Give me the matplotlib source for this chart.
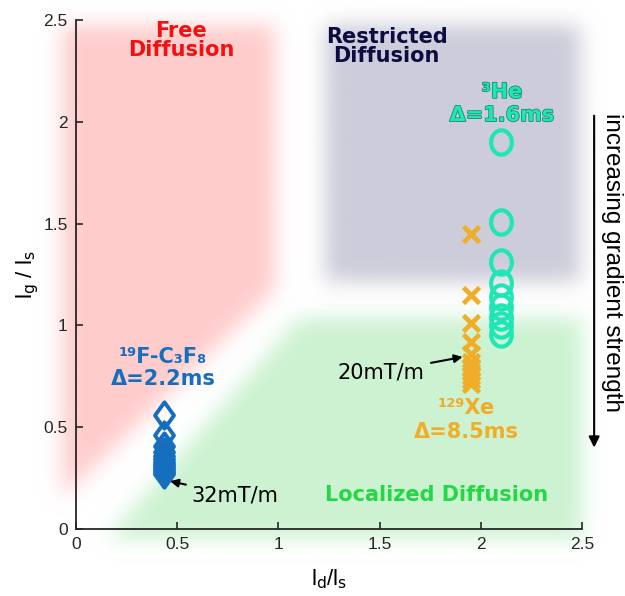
import numpy as np
import matplotlib
matplotlib.use("Agg")
import matplotlib.pyplot as plt
from matplotlib.path import Path
import matplotlib.patheffects as pe

# ---------------- data ----------------
he_x = 2.10
he_y = [1.90, 1.51, 1.31, 1.21, 1.14, 1.09, 1.04, 1.00, 0.96]

xe_x = 1.95
xe_y = [1.45, 1.15, 1.01, 0.92, 0.86, 0.82, 0.79, 0.77, 0.75, 0.73, 0.71]

f_x = 0.435
f_y = [0.56, 0.46, 0.41, 0.38, 0.36, 0.345, 0.33, 0.32, 0.31, 0.30, 0.29, 0.28, 0.27]

xticks = [0, 0.5, 1, 1.5, 2, 2.5]
yticks = [0, 0.5, 1, 1.5, 2, 2.5]
xtick_labels = ["0", "0.5", "1", "1.5", "2", "2.5"]
ytick_labels = ["0", "0.5", "1", "1.5", "2", "2.5"]

free_region = [(-0.07, 2.47), (0.98, 2.47), (0.98, 1.17), (-0.07, 0.15)]
restricted_region = [(1.23, 2.47), (2.49, 2.47), (2.49, 1.21), (1.23, 1.21)]
localized_region = [(0.15, -0.05), (2.50, -0.05), (2.50, 1.03), (1.10, 1.03)]

c_free = (1.0, 0.80, 0.80)
c_restr = (0.80, 0.80, 0.855)
c_local = (0.80, 0.95, 0.82)

c_he = "#1ee6b4"
c_xe = "#f0ae28"
c_f = "#166ebe"

# ---------------- figure ----------------
fig = plt.figure(figsize=(6.25, 5.96), dpi=100)
ax = fig.add_axes([0.1216, 0.1124, 0.8096, 0.854])

# blurred background regions
gx = np.linspace(-0.3, 2.8, 621)
gy = np.linspace(-0.3, 2.8, 621)
GX, GY = np.meshgrid(gx, gy)
pts = np.column_stack([GX.ravel(), GY.ravel()])
sig = 0.05 / (gx[1] - gx[0])
k = np.arange(-int(3 * sig), int(3 * sig) + 1)
kern = np.exp(-0.5 * (k / sig) ** 2)
kern /= kern.sum()


def blur(m):
    m = np.apply_along_axis(lambda r: np.convolve(r, kern, mode="same"), 1, m)
    m = np.apply_along_axis(lambda r: np.convolve(r, kern, mode="same"), 0, m)
    return m


for poly, col in [(free_region, c_free), (restricted_region, c_restr), (localized_region, c_local)]:
    mask = Path(poly).contains_points(pts).reshape(GX.shape).astype(float)
    a = blur(mask)
    img = np.zeros(GX.shape + (4,))
    img[..., 0], img[..., 1], img[..., 2] = col
    img[..., 3] = a
    ax.imshow(img, extent=(gx[0], gx[-1], gy[0], gy[-1]), origin="lower",
              aspect="auto", zorder=0, clip_on=False, interpolation="bilinear")

# custom markers
t = np.linspace(0, 2 * np.pi, 60)
ellipse = Path(np.column_stack([0.85 * np.cos(t), np.sin(t)]), closed=True)
diamond = Path([(0, 1), (0.72, 0), (0, -1), (-0.72, 0), (0, 1)], closed=True)

ax.plot([f_x] * len(f_y), f_y, linestyle="none", marker=diamond, markersize=19,
        markerfacecolor="none", markeredgecolor=c_f, markeredgewidth=2.8, zorder=3)
ax.plot([xe_x] * len(xe_y), xe_y, linestyle="none", marker="x", markersize=11,
        markeredgecolor=c_xe, markeredgewidth=3.4, zorder=3)
ax.plot([he_x] * len(he_y), he_y, linestyle="none", marker=ellipse, markersize=17.5,
        markerfacecolor="none", markeredgecolor=c_he, markeredgewidth=3.0, zorder=3)

# region labels
bold = dict(family="DejaVu Sans", fontweight="bold", fontsize=15, ha="center",
            va="center", linespacing=0.95)
ax.text(0.52, 2.40, "Free\nDiffusion", color="#f21010", **bold)
ax.text(1.535, 2.37, "Restricted\nDiffusion", color="#0c0c40", **bold)
ax.text(1.78, 0.165, "Localized Diffusion", color="#22d844", **bold)

ax.text(2.105, 2.09, "³He\nΔ=1.6ms", color=c_he,
        path_effects=[pe.withStroke(linewidth=1.1, foreground="#12876c")],
        **dict(bold, linespacing=1.2))
ax.text(0.43, 0.79, "¹⁹F-C₃F₈\nΔ=2.2ms", color=c_f, **dict(bold, linespacing=1.1))
ax.text(1.93, 0.535, "¹²⁹Xe\nΔ=8.5ms", color=c_xe, **dict(bold, linespacing=1.25))

# annotations
ax.annotate("32mT/m", xy=(0.465, 0.235), xytext=(0.57, 0.165),
            fontsize=15, family="DejaVu Sans", ha="left", va="center",
            arrowprops=dict(arrowstyle="-|>", color="black", lw=1.5,
                            shrinkA=2, shrinkB=0, mutation_scale=12))
ax.annotate("20mT/m", xy=(1.91, 0.845), xytext=(1.72, 0.77),
            fontsize=15, family="DejaVu Sans", ha="right", va="center",
            arrowprops=dict(arrowstyle="-|>", color="black", lw=1.5,
                            shrinkA=3, shrinkB=0, mutation_scale=12))

# side arrow + text
ax.annotate("", xy=(2.56, 0.40), xytext=(2.56, 2.03), xycoords="data",
            annotation_clip=False,
            arrowprops=dict(arrowstyle="-|>", color="black", lw=1.5,
                            shrinkA=0, shrinkB=0, mutation_scale=16))
ax.text(2.65, 1.31, "increasing gradient strength", rotation=-90,
        family="Liberation Sans", fontsize=17.5, ha="center", va="center",
        clip_on=False)

# axes styling
ax.set_xlim(0, 2.5)
ax.set_ylim(0, 2.5)
ax.set_xticks(xticks)
ax.set_xticklabels(xtick_labels)
ax.set_yticks(yticks)
ax.set_yticklabels(ytick_labels)
for s in ["top", "right"]:
    ax.spines[s].set_visible(False)
for s in ["left", "bottom"]:
    ax.spines[s].set_color("#262626")
    ax.spines[s].set_linewidth(1.3)
    ax.spines[s].set_zorder(5)
ax.tick_params(direction="in", length=5, width=1.2, color="#262626",
               labelsize=12.5, pad=6)
for lab in ax.get_xticklabels() + ax.get_yticklabels():
    lab.set_family("Liberation Sans")
    lab.set_color("#262626")
ax.set_xlabel(r"l$_\mathrm{d}$/l$_\mathrm{s}$", family="Liberation Sans",
              fontsize=16, labelpad=11)
ax.set_ylabel(r"l$_\mathrm{g}$ / l$_\mathrm{s}$", family="Liberation Sans",
              fontsize=16, labelpad=2)
ax.set_facecolor("none")

fig.savefig("out.png", dpi=100)
